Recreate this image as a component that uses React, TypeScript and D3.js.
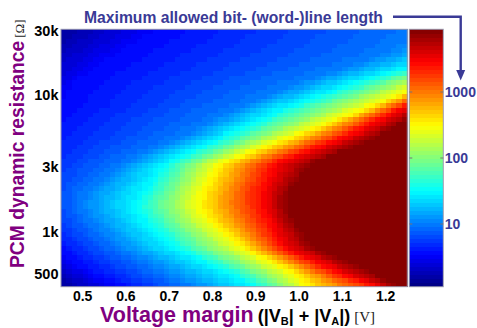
import React from "react";
import * as d3 from "d3";

// rows of the map, log10 of the PCM resistance (Ohm)
const rowLogR = [4.477, 4.3, 4.1, 3.9, 3.7, 3.5, 3.3, 3.2, 3.1, 2.9, 2.7, 2.6];
// log10(max line length) at the left edge (0.45 V) for each row
const leftEdge = [0.15, 0.29, 0.44, 0.55, 0.63, 0.73, 0.83, 0.83, 0.78, 0.6, 0.25, 0.15];
// contour levels (log10 of length) and the voltage where each row crosses them
const levels = [0.54, 1.0, 1.5, 2.5, 3.45, 3.95];
const vBlue = [0.667, 0.575, 0.482, 0.44, 0.4, 0.4, 0.4, 0.4, 0.4, 0.43, 0.517, 0.586];
const vMid = [1.28, 1.187, 1.002, 0.845, 0.725, 0.586, 0.505, 0.494, 0.512, 0.575, 0.69, 0.748];
const vCyan = [1.45, 1.37, 1.134, 0.96, 0.825, 0.688, 0.642, 0.619, 0.639, 0.704, 0.84, 0.9];
const vYellow = [1.7, 1.5, 1.31, 1.15, 0.985, 0.815, 0.778, 0.771, 0.789, 0.866, 0.99, 1.02];
const vRed = [1.9, 1.62, 1.39, 1.233, 1.108, 0.944, 0.914, 0.915, 0.928, 0.96, 1.095, 1.19];
const vDark = [2.1, 1.72, 1.45, 1.302, 1.187, 1.036, 0.983, 0.975, 0.986, 1.037, 1.184, 1.235];
const crossings = [vBlue, vMid, vCyan, vYellow, vRed, vDark];

const xTicks = [0.5, 0.6, 0.7, 0.8, 0.9, 1.0, 1.1, 1.2];
const yTicks = [30000, 10000, 3000, 1000, 500];
const yTickLabels = ["30k", "10k", "3k", "1k", "500"];
const cTicks = [10, 100, 1000];

const W = 477;
const H = 328;
const plot = { left: 61, right: 407.3, top: 29.3, bottom: 286.7 };
const bar = { left: 409.3, right: 443.3 };
const NCOL = 64;
const NROW = 56;
const NCOLOR = 64;
const LMIN = 0.05;
const LMAX = 3.95;

const font = "'Liberation Sans', Arial, sans-serif";
const serif = "'Liberation Serif', 'Times New Roman', serif";
const purple = "#800080";
const navy = "#3a3a96";

function jet(t: number) {
  const c = (v: number) => Math.round(255 * Math.max(0, Math.min(1, v)));
  return `rgb(${c(1.5 - Math.abs(4 * t - 3))},${c(1.5 - Math.abs(4 * t - 2))},${c(1.5 - Math.abs(4 * t - 1))})`;
}

function colorOf(L: number) {
  const t = (L - LMIN) / (LMAX - LMIN);
  const i = Math.max(0, Math.min(NCOLOR - 1, Math.floor(t * NCOLOR)));
  return jet((i + 0.5) / NCOLOR);
}

// value at (v, logR) from the contour table
function valueAt(v: number, lr: number) {
  let k = 0;
  while (k < rowLogR.length - 2 && lr < rowLogR[k + 1]) k++;
  const f = (rowLogR[k] - lr) / (rowLogR[k] - rowLogR[k + 1]);
  const mix = (a: number[]) => a[k] + (a[k + 1] - a[k]) * f;
  const l0 = mix(leftEdge);
  const pts: [number, number][] = [[0.45, l0]];
  levels.forEach((lev, i) => {
    const c = mix(crossings[i]);
    if (lev > l0 && c > 0.45) pts.push([c, lev]);
  });
  if (v <= pts[0][0]) return pts[0][1];
  for (let i = 1; i < pts.length; i++) {
    if (v <= pts[i][0]) {
      const [x0, y0] = pts[i - 1];
      const [x1, y1] = pts[i];
      return y0 + ((y1 - y0) * (v - x0)) / (x1 - x0);
    }
  }
  return pts[pts.length - 1][1];
}

export default function App() {
  const x = d3.scaleLinear().domain([0.45, 1.25]).range([plot.left, plot.right]);
  const y = d3.scaleLog().domain([400, 30000]).range([plot.bottom, plot.top]);
  const c = d3
    .scaleLog()
    .domain([10 ** LMIN, 10 ** LMAX])
    .range([plot.bottom, plot.top]);

  const lo = Math.log10(400);
  const hi = Math.log10(30000);
  const cells = [];
  for (let j = 0; j < NROW; j++) {
    const r0 = lo + ((hi - lo) * j) / NROW;
    const r1 = lo + ((hi - lo) * (j + 1)) / NROW;
    for (let i = 0; i < NCOL; i++) {
      const v0 = 0.45 + (0.8 * i) / NCOL;
      const v1 = 0.45 + (0.8 * (i + 1)) / NCOL;
      const L = valueAt((v0 + v1) / 2, (r0 + r1) / 2);
      cells.push(
        <rect
          key={`${i}-${j}`}
          x={x(v0)}
          y={y(10 ** r1)}
          width={x(v1) - x(v0) + 0.6}
          height={y(10 ** r0) - y(10 ** r1) + 0.6}
          fill={colorOf(L)}
        />
      );
    }
  }

  const barCells = d3.range(NCOLOR).map((k) => {
    const a = LMIN + ((LMAX - LMIN) * k) / NCOLOR;
    const b = LMIN + ((LMAX - LMIN) * (k + 1)) / NCOLOR;
    return (
      <rect
        key={k}
        x={bar.left}
        y={c(10 ** b)}
        width={bar.right - bar.left}
        height={c(10 ** a) - c(10 ** b) + 0.6}
        fill={jet((k + 0.5) / NCOLOR)}
      />
    );
  });

  return (
    <svg
      width={W}
      height={H}
      style={{ position: "absolute", left: 0, top: 0, background: "#fff" }}
    >
      <g shapeRendering="crispEdges">{cells}</g>
      <rect
        x={plot.left}
        y={plot.top}
        width={plot.right - plot.left}
        height={plot.bottom - plot.top}
        fill="none"
        stroke="#9a9ab0"
        strokeWidth={1}
      />
      <g shapeRendering="crispEdges">{barCells}</g>
      <rect
        x={bar.left}
        y={plot.top}
        width={bar.right - bar.left}
        height={plot.bottom - plot.top}
        fill="none"
        stroke="#9a9ab0"
        strokeWidth={1}
      />
      {cTicks.map((t) => (
        <g key={t}>
          <line x1={bar.left} x2={bar.left + 3} y1={c(t)} y2={c(t)} stroke="#777" />
          <line x1={bar.right - 3} x2={bar.right} y1={c(t)} y2={c(t)} stroke="#777" />
          <text
            x={bar.right + 1.5}
            y={c(t)}
            dy="0.36em"
            fontFamily={font}
            fontWeight="bold"
            fontSize={14}
            fill={navy}
          >
            {t}
          </text>
        </g>
      ))}

      {xTicks.map((t) => (
        <text
          key={t}
          x={x(t)}
          y={300.7}
          textAnchor="middle"
          fontFamily={font}
          fontWeight="bold"
          fontSize={14}
          fill="#000"
        >
          {t.toFixed(1)}
        </text>
      ))}
      {yTicks.map((t, i) => (
        <text
          key={t}
          x={58.5}
          y={Math.max(y(t), 31)}
          dy="0.36em"
          textAnchor="end"
          fontFamily={font}
          fontWeight="bold"
          fontSize={14.5}
          fill="#000"
        >
          {yTickLabels[i]}
        </text>
      ))}

      <text x={100} y={321.5} fontFamily={font} fontWeight="bold" fill="#000">
        <tspan fill={purple} fontSize={21.5}>
          Voltage margin
        </tspan>
        <tspan fontSize={18} dx={4}>
          (|V
        </tspan>
        <tspan fontSize={11} dy={3}>
          B
        </tspan>
        <tspan fontSize={18} dy={-3}>
          | + |V
        </tspan>
        <tspan fontSize={11} dy={3}>
          A
        </tspan>
        <tspan fontSize={18} dy={-3}>
          |)
        </tspan>
        <tspan fontFamily={serif} fontWeight="normal" fontSize={15} dx={4} fill="#222">
          [V]
        </tspan>
      </text>

      <text
        transform="translate(24,268) rotate(-90)"
        fontFamily={font}
        fontWeight="bold"
      >
        <tspan fill={purple} fontSize={19.3}>
          PCM dynamic resistance
        </tspan>
        <tspan fontFamily={serif} fontWeight="normal" fontSize={13} dx={3} fill="#222">
          [Ω]
        </tspan>
      </text>

      <text x={84} y={23.3} fontFamily={font} fontWeight="bold" fontSize={15.7} fill={navy}>
        Maximum allowed bit- (word-)line length
      </text>
      <polyline
        points="393,16.7 460.7,16.7 460.7,72"
        fill="none"
        stroke={navy}
        strokeWidth={2.4}
      />
      <polygon points="456.2,70 465.2,70 460.7,80.5" fill={navy} />
    </svg>
  );
}
